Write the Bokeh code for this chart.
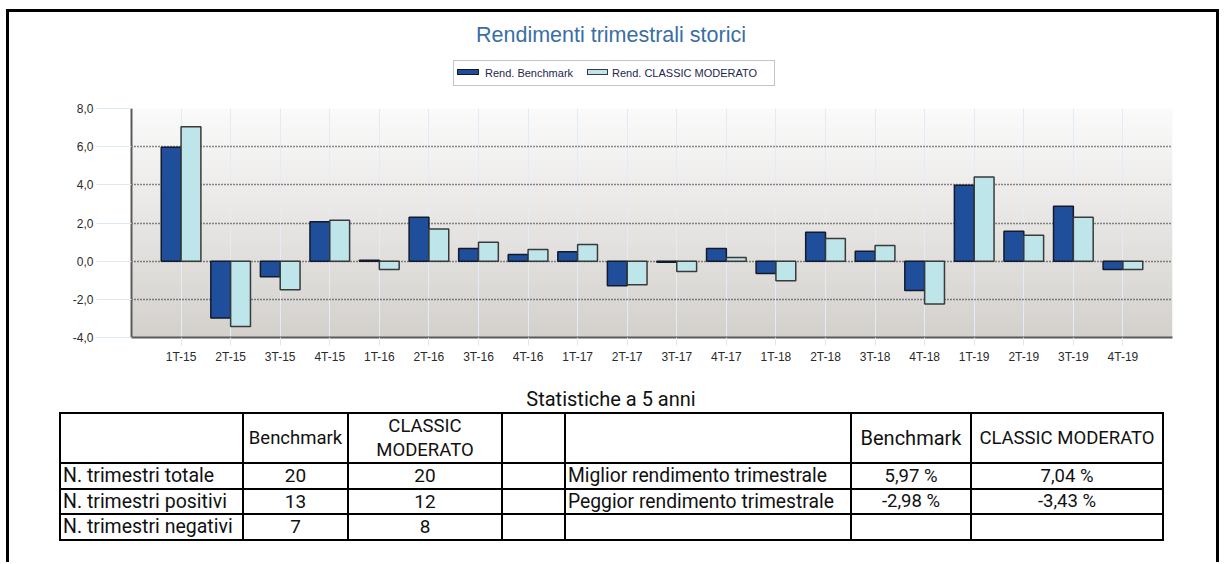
import numpy as np
from bokeh.plotting import figure
from bokeh.models import (FactorRange, Range1d, FixedTicker, ColumnDataSource, Div)
from bokeh.transform import dodge
from bokeh.layouts import column
from bokeh.embed import file_html
from bokeh.resources import INLINE

# ---------------- data ----------------
quarters = ["1T-15", "2T-15", "3T-15", "4T-15", "1T-16", "2T-16", "3T-16", "4T-16",
            "1T-17", "2T-17", "3T-17", "4T-17", "1T-18", "2T-18", "3T-18", "4T-18",
            "1T-19", "2T-19", "3T-19", "4T-19"]
benchmark = [5.97, -2.98, -0.82, 2.07, 0.05, 2.30, 0.66, 0.35, 0.50, -1.29,
             -0.06, 0.66, -0.65, 1.52, 0.52, -1.54, 3.98, 1.57, 2.88, -0.44]
classic = [7.04, -3.43, -1.50, 2.15, -0.44, 1.68, 0.99, 0.61, 0.87, -1.24,
           -0.54, 0.19, -1.03, 1.19, 0.82, -2.24, 4.41, 1.36, 2.30, -0.44]
y_ticks = [-4, -2, 0, 2, 4, 6, 8]
y_tick_labels = ["-4,0", "-2,0", "0,0", "2,0", "4,0", "6,0", "8,0"]

chart_title = "Rendimenti trimestrali storici"
series_names = ["Rend. Benchmark", "Rend. CLASSIC MODERATO"]

stats_title = "Statistiche a 5 anni"
left_header = ["Benchmark", "CLASSIC<br>MODERATO"]
left_rows = ["N. trimestri totale", "N. trimestri positivi", "N. trimestri negativi"]
left_bench = ["20", "13", "7"]
left_classic = ["20", "12", "8"]
right_header = ["Benchmark", "CLASSIC MODERATO"]
right_rows = ["Miglior rendimento trimestrale", "Peggior rendimento trimestrale", ""]
right_bench = ["5,97 %", "-2,98 %", ""]
right_classic = ["7,04 %", "-3,43 %", ""]

BLUE = "#1f4e9b"
LIGHT = "#bde5ea"
AXFONT = "Liberation Sans"
W = 1207

# ---------------- header: title + legend ----------------
def box(l, t, w, h, extra=""):
    return (f'<div style="position:absolute;left:{l}px;top:{t}px;width:{w}px;'
            f'height:{h}px;{extra}"></div>')

def txt(l, t, s, extra=""):
    return (f'<div style="position:absolute;left:{l}px;top:{t}px;white-space:nowrap;'
            f'{extra}">{s}</div>')

header_html = (
    f'<div style="position:relative;width:{W}px;height:84px;'
    f'font-family:\'Liberation Sans\',Arial,sans-serif;">'
    + f'<div style="position:absolute;left:0;top:8px;width:1204px;text-align:center;'
      f'font-size:21.5px;line-height:30px;color:#3a6ea6;">{chart_title}</div>'
    + box(444, 48, 322, 26, "border:1px solid #c4c4c4;background:#ffffff;")
    + box(448, 57, 22, 6, f"border:1px solid #141a2a;background:{BLUE};")
    + txt(476, 54, series_names[0], "font-size:11px;line-height:14px;color:#1e2650;")
    + box(578, 57, 21, 6, f"border:1px solid #3a3a3a;background:{LIGHT};")
    + txt(603, 54, series_names[1], "font-size:11px;line-height:14px;color:#1e2650;")
    + '</div>'
)
header = Div(text=header_html, width=W, height=84, margin=0)

# ---------------- chart ----------------
src = ColumnDataSource(dict(q=quarters, b=benchmark, c=classic))

p1 = figure(width=W, height=280,
            x_range=FactorRange(factors=quarters, range_padding=0.5,
                                range_padding_units="absolute"),
            y_range=Range1d(-4, 8),
            min_border_left=122, min_border_right=44,
            min_border_top=12, min_border_bottom=39,
            output_backend="svg", toolbar_location=None, margin=0)
p1.outline_line_color = None
p1.background_fill_color = "white"
p1.border_fill_color = "white"

# vertical gradient background of the plot area
n = 240
top = np.array([251, 251, 251], dtype=float)
bot = np.array([212, 209, 205], dtype=float)
t = np.linspace(0, 1, n)[:, None]
cols = (bot * (1 - t) + top * t).astype(np.uint8)
img = np.empty((n, 1), dtype=np.uint32)
view = img.view(dtype=np.uint8).reshape((n, 1, 4))
view[:, 0, 0] = cols[:, 0]
view[:, 0, 1] = cols[:, 1]
view[:, 0, 2] = cols[:, 2]
view[:, 0, 3] = 255
p1.image_rgba(image=[img], x=-0.5, y=-4, dw=21, dh=12, level="image")

p1.vbar(x=dodge("q", -0.2, range=p1.x_range), top="b", bottom=0, width=0.4,
        source=src, fill_color=BLUE, line_color="#141a2a", line_width=1.5)
p1.vbar(x=dodge("q", 0.2, range=p1.x_range), top="c", bottom=0, width=0.4,
        source=src, fill_color=LIGHT, line_color="#3a3a3a", line_width=1.5)

# grids
p1.xgrid.grid_line_color = "#e2ebf6"
p1.xgrid.grid_line_width = 1
p1.ygrid.ticker = FixedTicker(ticks=y_ticks)
p1.ygrid.grid_line_color = "#1e1e1e"
p1.ygrid.grid_line_dash = "1 2"
p1.ygrid.grid_line_width = 1.3

# axes
p1.yaxis.ticker = FixedTicker(ticks=y_ticks)
p1.yaxis.major_label_overrides = {t_: l_ for t_, l_ in zip(y_ticks, y_tick_labels)}
p1.yaxis.major_tick_out = 35
p1.yaxis.major_tick_in = 0
p1.yaxis.minor_tick_line_color = None
p1.yaxis.major_tick_line_color = "#dce8f4"
p1.yaxis.major_label_standoff = 3
p1.xaxis.major_tick_out = 8
p1.xaxis.major_tick_in = 0
p1.xaxis.major_tick_line_color = "#dce8f4"
p1.xaxis.major_label_standoff = 4
for ax in (p1.xaxis, p1.yaxis):
    ax.axis_line_color = "#5a5a5a"
    ax.axis_line_width = 2
    ax.major_label_text_font = AXFONT
    ax.major_label_text_font_size = "12px"
    ax.major_label_text_color = "#2a2a2a"

# ---------------- statistics table ----------------
col_x = [51, 234, 339, 493, 556, 842, 962, 1154]
row_y = [37, 87, 113, 138, 164]

def cell(c0, c1, r0, r1, s, align="center", size=19, lh=None):
    x0, x1 = col_x[c0], col_x[c1]
    y0, y1 = row_y[r0], row_y[r1]
    just = "center" if align == "center" else "flex-start"
    pad = 2 if align == "left" else 0
    lh_css = f"line-height:{lh}px;" if lh else ""
    return (f'<div style="position:absolute;left:{x0 + 1 + pad}px;top:{y0}px;'
            f'width:{x1 - x0 - 2 - pad}px;height:{y1 - y0}px;display:flex;'
            f'align-items:center;justify-content:{just};text-align:{align};'
            f'font-size:{size}px;{lh_css}white-space:nowrap;">{s}</div>')

parts = [f'<div style="position:relative;width:{W}px;height:186px;'
         f'font-family:Roboto,sans-serif;color:#111111;">']
parts.append(f'<div style="position:absolute;left:0;top:10px;width:1204px;'
             f'text-align:center;font-size:20px;line-height:26px;">{stats_title}</div>')
for y in row_y:
    parts.append(box(col_x[0] - 1, y - 1, col_x[-1] - col_x[0] + 2, 2, "background:#000;"))
for x in col_x:
    parts.append(box(x - 1, row_y[0] - 1, 2, row_y[-1] - row_y[0] + 2, "background:#000;"))

parts.append(cell(1, 2, 0, 1, left_header[0], size=18.5))
parts.append(cell(2, 3, 0, 1, left_header[1], size=18.5, lh=24))
parts.append(cell(5, 6, 0, 1, right_header[0], size=20))
parts.append(cell(6, 7, 0, 1, right_header[1], size=18.5))
for i in range(3):
    parts.append(cell(0, 1, i + 1, i + 2, left_rows[i], align="left", size=19.5))
    parts.append(cell(1, 2, i + 1, i + 2, left_bench[i], size=19))
    parts.append(cell(2, 3, i + 1, i + 2, left_classic[i], size=19))
    parts.append(cell(4, 5, i + 1, i + 2, right_rows[i], align="left", size=19.3))
    parts.append(cell(5, 6, i + 1, i + 2, right_bench[i], size=18.5))
    parts.append(cell(6, 7, i + 1, i + 2, right_classic[i], size=18.5))
parts.append('</div>')
table = Div(text="".join(parts), width=W, height=186, margin=0)

layout = column(header, p1, table, spacing=0, margin=(9, 0, 0, 6),
                styles={"border-top": "3px solid black",
                        "border-left": "3px solid black",
                        "border-right": "3px solid black"})

open("out.html", "w").write(file_html(layout, INLINE))
